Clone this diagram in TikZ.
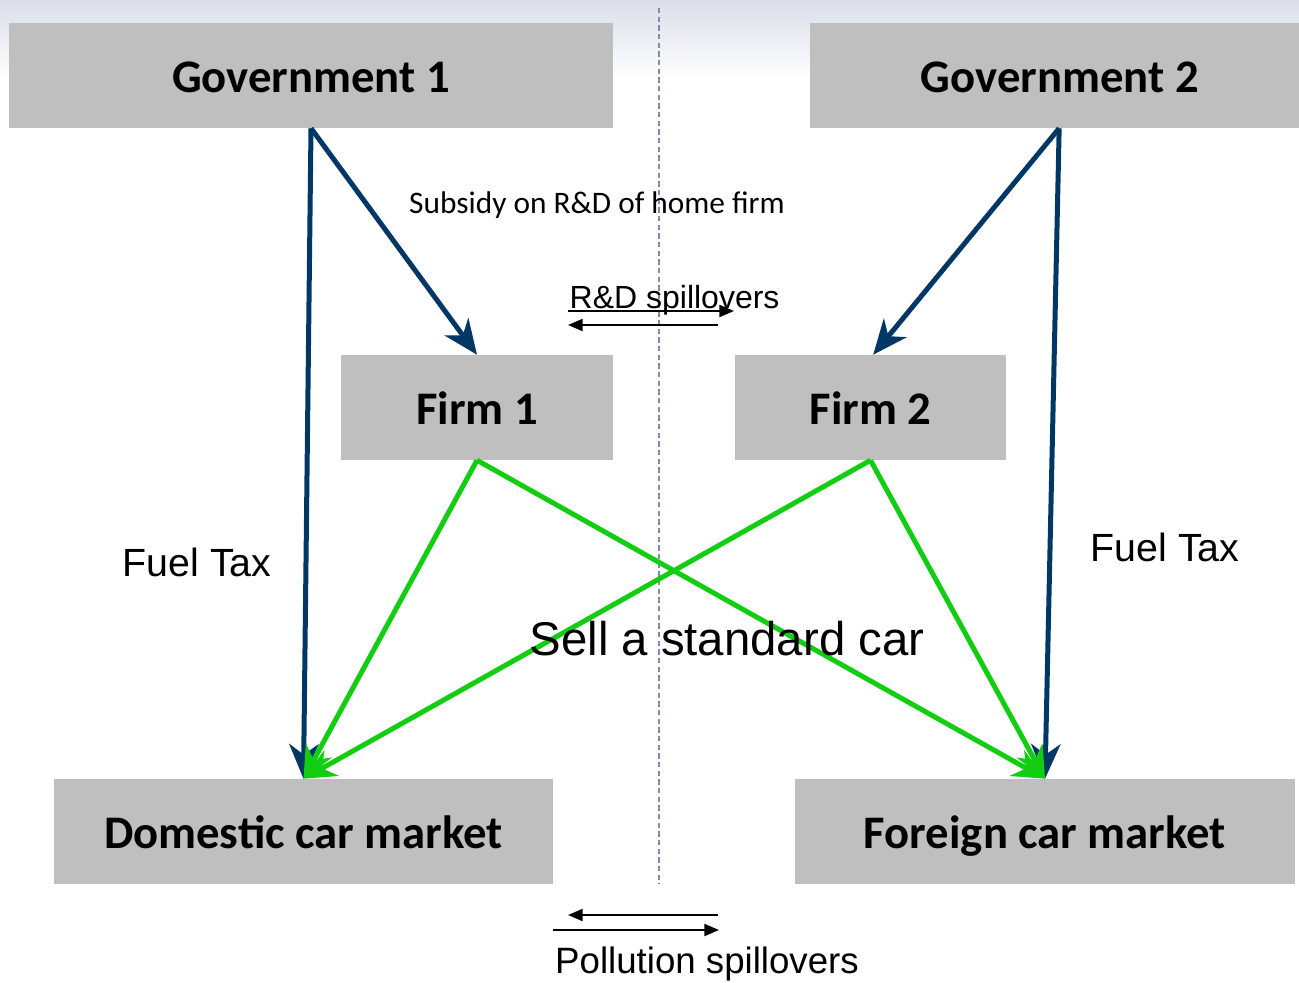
\documentclass[tikz,border=0pt]{standalone}
\usepackage{fontspec}
\setmainfont{Liberation Sans}
\newfontfamily\calibri{Carlito}
\usetikzlibrary{arrows.meta}
\definecolor{boxgray}{RGB}{191,191,191}
\definecolor{govblue}{RGB}{0,55,100}
\definecolor{sellgreen}{RGB}{18,205,18}
\definecolor{splitline}{RGB}{125,140,170}
\definecolor{topshade}{RGB}{218,222,232}
\begin{document}
\begin{tikzpicture}[x=0.75pt,y=0.75pt,yscale=-1,xscale=1,
  actor/.style={fill=boxgray,inner sep=0pt,text height=30pt,text depth=4pt,font=\calibri\bfseries\fontsize{35}{40}\selectfont},
  govarrow/.style={draw=govblue,line width=3.75pt,-{Stealth[length=26pt,width=22pt,inset=8pt]}},
  sellarrow/.style={draw=sellgreen,line width=3.75pt,-{Stealth[length=24pt,width=22pt,inset=8pt]}},
  spill/.style={line width=1.5pt,-{Triangle[length=11pt,width=9pt]}}]
\useasboundingbox (0,0) rectangle (1299,982);
%background shade at the top
\shade [top color=topshade,bottom color=white,draw=none] (0,0) rectangle (1299,80);
%dividing line
\draw [splitline,line width=1.1pt,dash pattern={on 4pt off 2.5pt}] (659,8) -- (659,884);

%Boxes
\node [actor,minimum width=453pt,minimum height=78.75pt] (gov1) at (311,75.5) {Government 1};
\node [actor,minimum width=366.75pt,minimum height=78.75pt] (gov2) at (1054.5,75.5) {\hspace{8pt}Government 2};
\node [actor,minimum width=204pt,minimum height=78.75pt] (firm1) at (477,407.5) {Firm 1};
\node [actor,minimum width=203.25pt,minimum height=78.75pt] (firm2) at (870.5,407.5) {Firm 2};
\node [actor,minimum width=374.25pt,minimum height=78.75pt] (dom) at (303.5,831.5) {Domestic car market};
\node [actor,minimum width=375pt,minimum height=78.75pt] (for) at (1045,831.5) {Foreign car market};

%Government arrows
\draw [govarrow] (gov1.south) -- (firm1.north);
\draw [govarrow] (gov1.south) -- (dom.north);
\draw [govarrow] ([xshift=3.5]gov2.south) -- ([xshift=2]firm2.north);
\draw [govarrow] ([xshift=3.5]gov2.south) -- (for.north);

%Sales arrows
\draw [sellarrow] (firm1.south) -- (dom.north);
\draw [sellarrow] (firm1.south) -- (for.north);
\draw [sellarrow] (firm2.south) -- (dom.north);
\draw [sellarrow] (firm2.south) -- (for.north);

%Spillover arrows
\coordinate (rdL1) at (568,311);
\coordinate (rdR1) at (734,311);
\coordinate (rdR2) at (718,325);
\coordinate (rdL2) at (568,325);
\draw [spill] (rdL1) -- (rdR1);
\draw [spill] (rdR2) -- (rdL2);
\coordinate (plR1) at (718,915);
\coordinate (plL1) at (568,915);
\coordinate (plL2) at (553,930);
\coordinate (plR2) at (719,930);
\draw [spill] (plR1) -- (plL1);
\draw [spill] (plL2) -- (plR2);

% Text Node
\node [font=\calibri\fontsize{23.5}{28}\selectfont] (subsidy) at (597,205) {Subsidy on R\&D of home firm};
\node [font=\fontsize{24}{28}\selectfont,anchor=west] (rdspill) at (565,300) {R\&D spillovers};
\node [font=\fontsize{29.5}{34}\selectfont] (tax1) at (197,562) {Fuel Tax};
\node [font=\fontsize{29.5}{34}\selectfont] (tax2) at (1165,547) {Fuel Tax};
\node [font=\fontsize{35.5}{40}\selectfont] (sell) at (727,639) {Sell a standard car};
\node [font=\fontsize{27.5}{32}\selectfont] (pollution) at (707,964) {Pollution spillovers};

\end{tikzpicture}
\end{document}
